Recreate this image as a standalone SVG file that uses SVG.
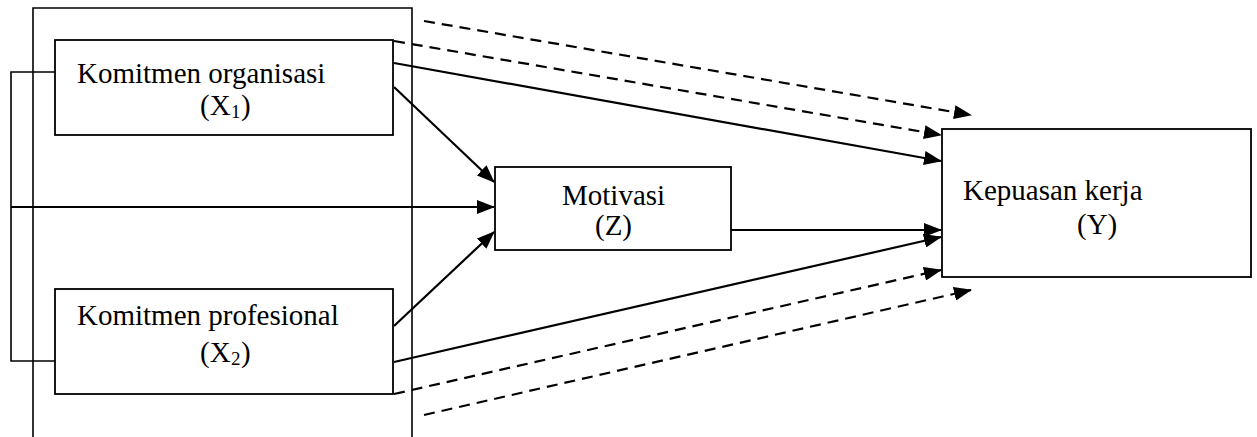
<svg xmlns="http://www.w3.org/2000/svg" width="1257" height="437" viewBox="0 0 1257 437">
  <defs>
    <style>
      .box { fill: #ffffff; stroke: #000000; stroke-width: 1.8; }
      .frame { fill: none; stroke: #000000; stroke-width: 1.6; }
      .txt { font-family: "Liberation Serif", "Times New Roman", serif; font-size: 29px; fill: #000000; }
      .sub { font-family: "Liberation Serif", "Times New Roman", serif; font-size: 19px; fill: #000000; }
      .solid { fill: none; stroke: #000000; stroke-width: 2.2; }
      .plain { fill: none; stroke: #000000; stroke-width: 1.6; }
      .dash { fill: none; stroke: #000000; stroke-width: 2.2; stroke-dasharray: 11 7; }
    </style>
    <marker id="arrow" markerUnits="userSpaceOnUse" markerWidth="18" markerHeight="14" viewBox="0 0 18 14" refX="17" refY="7" orient="auto">
      <path d="M0,0 L18,7 L0,14 Z" fill="#000000"/>
    </marker>
  </defs>

  <g id="frame">
    <path class="frame" d="M33,437 V8 H412 V437"/>
  </g>

  <g id="connectors">
    <polyline class="plain" points="55,72 11,72 11,361 55,361"/>
    <line class="solid" x1="11" y1="207" x2="494" y2="207" marker-end="url(#arrow)"/>
    <line class="solid" x1="394" y1="87" x2="494" y2="182" marker-end="url(#arrow)"/>
    <line class="solid" x1="394" y1="326" x2="494" y2="232" marker-end="url(#arrow)"/>
    <line class="solid" x1="731" y1="230" x2="941" y2="230" marker-end="url(#arrow)"/>
    <line class="solid" x1="394" y1="63" x2="941" y2="161" marker-end="url(#arrow)"/>
    <line class="solid" x1="394" y1="362" x2="941" y2="237" marker-end="url(#arrow)"/>
    <line class="dash" x1="424" y1="21" x2="971" y2="115" marker-end="url(#arrow)"/>
    <line class="dash" x1="394" y1="41" x2="941" y2="135" marker-end="url(#arrow)"/>
    <line class="dash" x1="394" y1="394" x2="941" y2="270" marker-end="url(#arrow)"/>
    <line class="dash" x1="424" y1="415" x2="971" y2="290" marker-end="url(#arrow)"/>
  </g>

  <g id="node-x1">
    <rect class="box" x="55" y="40" width="338" height="95"/>
    <text class="txt" x="77" y="83">Komitmen organisasi</text>
    <text class="txt" x="200" y="115">(X</text>
    <text class="sub" x="231" y="118">1</text>
    <text class="txt" x="241" y="115">)</text>
  </g>

  <g id="node-x2">
    <rect class="box" x="55" y="289" width="338" height="105"/>
    <text class="txt" x="77" y="325">Komitmen profesional</text>
    <text class="txt" x="200" y="362">(X</text>
    <text class="sub" x="231" y="365">2</text>
    <text class="txt" x="241" y="362">)</text>
  </g>

  <g id="node-z">
    <rect class="box" x="495" y="167" width="236" height="83"/>
    <text class="txt" x="562" y="205">Motivasi</text>
    <text class="txt" x="595" y="235">(Z)</text>
  </g>

  <g id="node-y">
    <rect class="box" x="942" y="129" width="309" height="148"/>
    <text class="txt" x="963" y="200">Kepuasan kerja</text>
    <text class="txt" x="1077" y="234">(Y)</text>
  </g>
</svg>
